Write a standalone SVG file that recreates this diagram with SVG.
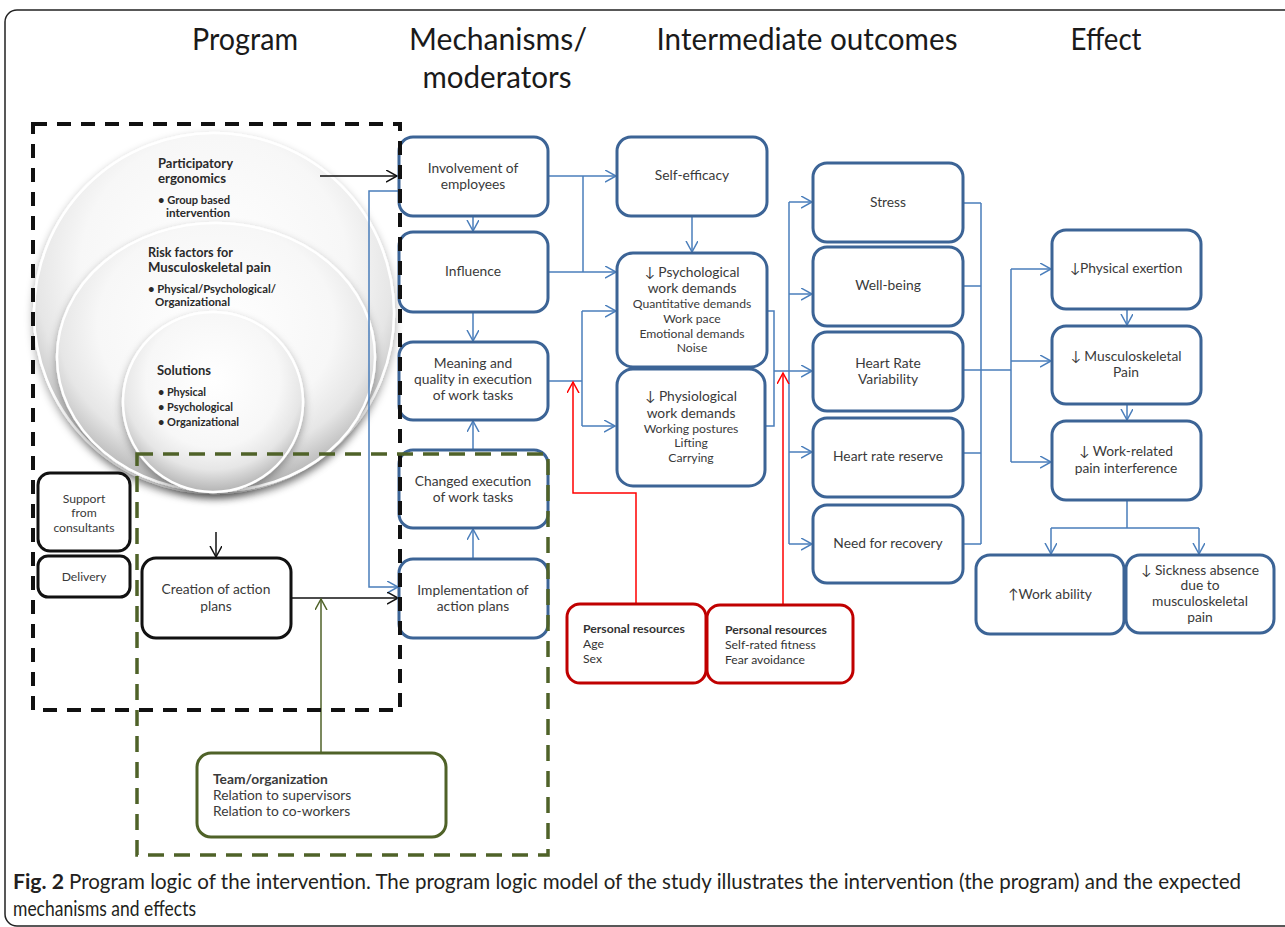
<svg xmlns="http://www.w3.org/2000/svg" width="1285" height="927" viewBox="0 0 1285 927">
<defs>
<style>
.hdr{font-family:Lato,"Liberation Sans",sans-serif;font-size:30px;fill:#1a1a1a;text-anchor:middle}
.bt{font-family:Lato,"DejaVu Sans","Liberation Sans",sans-serif;font-size:13.8px;fill:#3a3a3a;text-anchor:middle}
.sm{font-size:12.2px}
.ct{font-family:Lato,"DejaVu Sans","Liberation Sans",sans-serif;font-weight:bold;fill:#2a2a2a}
.lt{font-family:Lato,"Liberation Sans",sans-serif;font-size:12.2px;fill:#333}
.b{font-weight:bold}
.blue{fill:#fff;stroke:#3C6496;stroke-width:3}
.blk{fill:#fff;stroke:#111;stroke-width:3}
.red{fill:#fff;stroke:#C00000;stroke-width:3}
.grn{fill:#fff;stroke:#4F6228;stroke-width:3}
.cb{fill:none;stroke:#4A7EBB;stroke-width:1.5}
.ck{fill:none;stroke:#111;stroke-width:1.5}
.cg{fill:none;stroke:#4F6228;stroke-width:1.5}
.cr{fill:none;stroke:#FF0000;stroke-width:1.5}
.circ{stroke:#ffffff;stroke-width:2.5}
.cap{font-family:Lato,"Liberation Sans",sans-serif;font-size:20.5px;fill:#231f20}
</style>
<marker id="ab" markerUnits="userSpaceOnUse" markerWidth="14" markerHeight="14" refX="11" refY="6" orient="auto"><path d="M0,0 L11,6 L0,12" fill="none" stroke="#4A7EBB" stroke-width="1.5"/></marker>
<marker id="ak" markerUnits="userSpaceOnUse" markerWidth="14" markerHeight="14" refX="11" refY="6" orient="auto"><path d="M0,0 L11,6 L0,12" fill="none" stroke="#111" stroke-width="1.5"/></marker>
<marker id="ag" markerUnits="userSpaceOnUse" markerWidth="14" markerHeight="14" refX="11" refY="6" orient="auto"><path d="M0,0 L11,6 L0,12" fill="none" stroke="#4F6228" stroke-width="1.5"/></marker>
<marker id="ar" markerUnits="userSpaceOnUse" markerWidth="14" markerHeight="14" refX="11" refY="6" orient="auto"><path d="M0,0 L11,6 L0,12" fill="none" stroke="#FF0000" stroke-width="1.5"/></marker>
<radialGradient id="cg1" cx="50%" cy="38%" r="62%">
<stop offset="0" stop-color="#ffffff"/>
<stop offset="0.6" stop-color="#f7f7f7"/>
<stop offset="0.8" stop-color="#e6e6e6"/>
<stop offset="1" stop-color="#b4b4b4"/>
</radialGradient>
<filter id="sh" x="-20%" y="-20%" width="140%" height="150%">
<feDropShadow dx="0" dy="4" stdDeviation="4" flood-color="#000" flood-opacity="0.35"/>
</filter>
</defs>

<rect x="5" y="10" width="1300" height="916" rx="12" fill="none" stroke="#222" stroke-width="1.5"/>

<g id="headers">
<text class="hdr" x="245" y="50" textLength="106" lengthAdjust="spacingAndGlyphs">Program</text>
<text class="hdr" x="498" y="50" textLength="178" lengthAdjust="spacingAndGlyphs">Mechanisms/</text>
<text class="hdr" x="497" y="88" textLength="149" lengthAdjust="spacingAndGlyphs">moderators</text>
<text class="hdr" x="807" y="50" textLength="301" lengthAdjust="spacingAndGlyphs">Intermediate outcomes</text>
<text class="hdr" x="1106" y="50" textLength="71" lengthAdjust="spacingAndGlyphs">Effect</text>
</g>

<g id="program-circles">
<circle cx="214" cy="313" r="180" fill="url(#cg1)" class="circ" filter="url(#sh)"/>
<ellipse cx="216" cy="357" rx="159" ry="134" fill="url(#cg1)" class="circ" filter="url(#sh)"/>
<circle cx="213" cy="402" r="90" fill="url(#cg1)" class="circ" filter="url(#sh)"/>
<text class="ct" font-size="14" x="158" y="168" textLength="75" lengthAdjust="spacingAndGlyphs">Participatory</text>
<text class="ct" font-size="14" x="158" y="183" textLength="68" lengthAdjust="spacingAndGlyphs">ergonomics</text>
<text class="ct" font-size="12" x="158" y="204" textLength="72" lengthAdjust="spacingAndGlyphs">• Group based</text>
<text class="ct" font-size="12" x="166" y="217" textLength="64" lengthAdjust="spacingAndGlyphs">intervention</text>
<text class="ct" font-size="14" x="148" y="257" textLength="85" lengthAdjust="spacingAndGlyphs">Risk factors for</text>
<text class="ct" font-size="14" x="148" y="272" textLength="123" lengthAdjust="spacingAndGlyphs">Musculoskeletal pain</text>
<text class="ct" font-size="12" x="148" y="293" textLength="128" lengthAdjust="spacingAndGlyphs">• Physical/Psychological/</text>
<text class="ct" font-size="12" x="155" y="306" textLength="75" lengthAdjust="spacingAndGlyphs">Organizational</text>
<text class="ct" font-size="14" x="157" y="375" textLength="54" lengthAdjust="spacingAndGlyphs">Solutions</text>
<text class="ct" font-size="12" x="158" y="396" textLength="48" lengthAdjust="spacingAndGlyphs">• Physical</text>
<text class="ct" font-size="12" x="158" y="411" textLength="75" lengthAdjust="spacingAndGlyphs">• Psychological</text>
<text class="ct" font-size="12" x="158" y="426" textLength="81" lengthAdjust="spacingAndGlyphs">• Organizational</text>
</g>

<g id="connectors">
<path class="cb" d="M548,176 H616" marker-end="url(#ab)"/>
<path class="cb" d="M548,272 H616" marker-end="url(#ab)"/>
<path class="cb" d="M583,176 V272"/>
<path class="cb" d="M473,216 V231" marker-end="url(#ab)"/>
<path class="cb" d="M473,312 V341" marker-end="url(#ab)"/>
<path class="cb" d="M473,450 V421" marker-end="url(#ab)"/>
<path class="cb" d="M473,559 V529" marker-end="url(#ab)"/>
<path class="cb" d="M692,216 V252" marker-end="url(#ab)"/>
<path class="cb" d="M548,381 H582"/>
<path class="cb" d="M582,311 V426"/>
<path class="cb" d="M582,311 H616" marker-end="url(#ab)"/>
<path class="cb" d="M582,426 H615" marker-end="url(#ab)"/>
<path class="cb" d="M767,311 H774 V426 H765"/>
<path class="cb" d="M774,371 H812" marker-end="url(#ab)"/>
<path class="cb" d="M789,202 V544"/>
<path class="cb" d="M789,202 H812" marker-end="url(#ab)"/>
<path class="cb" d="M789,294 H812" marker-end="url(#ab)"/>
<path class="cb" d="M789,452 H812" marker-end="url(#ab)"/>
<path class="cb" d="M789,544 H812" marker-end="url(#ab)"/>
<path class="cb" d="M963,203 H981 M963,286 H981 M963,453 H981 M963,544 H981 M981,203 V544"/>
<path class="cb" d="M963,370 H1011 M1011,269 V462"/>
<path class="cb" d="M1011,269 H1051" marker-end="url(#ab)"/>
<path class="cb" d="M1011,361 H1051" marker-end="url(#ab)"/>
<path class="cb" d="M1011,462 H1051" marker-end="url(#ab)"/>
<path class="cb" d="M1127,309 V325" marker-end="url(#ab)"/>
<path class="cb" d="M1127,404 V420" marker-end="url(#ab)"/>
<path class="cb" d="M1127,500 V528 M1051,528 H1199"/>
<path class="cb" d="M1051,528 V554" marker-end="url(#ab)"/>
<path class="cb" d="M1199,528 V554" marker-end="url(#ab)"/>
<path class="cb" d="M399,191 H369 V587 H398" marker-end="url(#ab)"/>
<path class="ck" d="M320,176 H397" marker-end="url(#ak)"/>
<path class="ck" d="M216,532 V557" marker-end="url(#ak)"/>
<path class="ck" d="M291,598 H398" marker-end="url(#ak)"/>
<path class="cg" d="M321,753 V599" marker-end="url(#ag)"/>
<path class="cr" d="M636,604 V493 H573 V382" marker-end="url(#ar)"/>
<path class="cr" d="M783,605 V373" marker-end="url(#ar)"/>
</g>

<g id="involvement"><rect class="blue" x="399" y="137" width="149" height="79" rx="14"/><text class="bt" x="473" y="173">Involvement of</text><text class="bt" x="473" y="189">employees</text></g>
<g id="influence"><rect class="blue" x="399" y="232" width="149" height="80" rx="14"/><text class="bt" x="473" y="276">Influence</text></g>
<g id="meaning"><rect class="blue" x="399" y="342" width="149" height="78" rx="14"/><text class="bt" x="473" y="368">Meaning and</text><text class="bt" x="473" y="384">quality in execution</text><text class="bt" x="473" y="400">of work tasks</text></g>
<g id="changed"><rect class="blue" x="399" y="450" width="149" height="78" rx="14"/><text class="bt" x="473" y="486">Changed execution</text><text class="bt" x="473" y="502">of work tasks</text></g>
<g id="implementation"><rect class="blue" x="399" y="559" width="149" height="79" rx="14"/><text class="bt" x="473" y="595">Implementation of</text><text class="bt" x="473" y="611">action plans</text></g>

<g id="self-efficacy"><rect class="blue" x="617" y="137" width="150" height="79" rx="14"/><text class="bt" x="692" y="180">Self-efficacy</text></g>
<g id="psychological"><rect class="blue" x="617" y="253" width="150" height="114" rx="16"/><text class="bt" x="692" y="277">↓ Psychological</text><text class="bt" x="692" y="293">work demands</text><text class="bt sm" x="692" y="308">Quantitative demands</text><text class="bt sm" x="692" y="323">Work pace</text><text class="bt sm" x="692" y="338">Emotional demands</text><text class="bt sm" x="692" y="352">Noise</text></g>
<g id="physiological"><rect class="blue" x="617" y="369" width="148" height="117" rx="16"/><text class="bt" x="691" y="401">↓ Physiological</text><text class="bt" x="691" y="418">work demands</text><text class="bt sm" x="691" y="433">Working postures</text><text class="bt sm" x="691" y="447">Lifting</text><text class="bt sm" x="691" y="462">Carrying</text></g>

<g id="stress"><rect class="blue" x="813" y="163" width="150" height="79" rx="14"/><text class="bt" x="888" y="207">Stress</text></g>
<g id="well-being"><rect class="blue" x="813" y="247" width="150" height="79" rx="14"/><text class="bt" x="888" y="290">Well-being</text></g>
<g id="hrv"><rect class="blue" x="813" y="332" width="150" height="79" rx="14"/><text class="bt" x="888" y="368">Heart Rate</text><text class="bt" x="888" y="384">Variability</text></g>
<g id="hr-reserve"><rect class="blue" x="813" y="418" width="150" height="79" rx="14"/><text class="bt" x="888" y="461">Heart rate reserve</text></g>
<g id="recovery"><rect class="blue" x="813" y="505" width="150" height="78" rx="14"/><text class="bt" x="888" y="548">Need for recovery</text></g>

<g id="physical-exertion"><rect class="blue" x="1052" y="230" width="149" height="79" rx="14"/><text class="bt" x="1126" y="273">↓Physical exertion</text></g>
<g id="msk-pain"><rect class="blue" x="1052" y="326" width="149" height="78" rx="14"/><text class="bt" x="1126" y="361">↓ Musculoskeletal</text><text class="bt" x="1126" y="377">Pain</text></g>
<g id="work-pain"><rect class="blue" x="1052" y="421" width="149" height="79" rx="14"/><text class="bt" x="1126" y="456">↓ Work-related</text><text class="bt" x="1126" y="473">pain interference</text></g>
<g id="work-ability"><rect class="blue" x="976" y="555" width="148" height="79" rx="14"/><text class="bt" x="1050" y="599">↑Work ability</text></g>
<g id="sickness"><rect class="blue" x="1126" y="555" width="148" height="78" rx="14"/><text class="bt" x="1200" y="575">↓ Sickness absence</text><text class="bt" x="1200" y="590">due to</text><text class="bt" x="1200" y="606">musculoskeletal</text><text class="bt" x="1200" y="622">pain</text></g>

<g id="support"><rect class="blk" x="38" y="473" width="92" height="78" rx="12"/><text class="bt sm" x="84" y="503">Support</text><text class="bt sm" x="84" y="517">from</text><text class="bt sm" x="84" y="532">consultants</text></g>
<g id="delivery"><rect class="blk" x="38" y="556" width="92" height="41" rx="10"/><text class="bt sm" x="84" y="581">Delivery</text></g>
<g id="creation"><rect class="blk" x="142" y="558" width="149" height="80" rx="14"/><text class="bt" x="216" y="594">Creation of action</text><text class="bt" x="216" y="611">plans</text></g>

<g id="personal-1"><rect class="red" x="567" y="604" width="139" height="79" rx="13"/><text class="lt b" x="583" y="633">Personal resources</text><text class="lt" x="583" y="648">Age</text><text class="lt" x="583" y="663">Sex</text></g>
<g id="personal-2"><rect class="red" x="707" y="605" width="146" height="78" rx="13"/><text class="lt b" x="725" y="634">Personal resources</text><text class="lt" x="725" y="649">Self-rated fitness</text><text class="lt" x="725" y="664">Fear avoidance</text></g>
<g id="team"><rect class="grn" x="197" y="753" width="249" height="84" rx="14"/><text class="bt b" style="text-anchor:start" x="213" y="784">Team/organization</text><text class="bt" style="text-anchor:start" x="213" y="800">Relation to supervisors</text><text class="bt" style="text-anchor:start" x="213" y="816">Relation to co-workers</text></g>

<g id="frames">
<rect x="33" y="124" width="367" height="586" fill="none" stroke="#111" stroke-width="4" stroke-dasharray="14,10"/>
<rect x="137" y="454" width="411" height="401" fill="none" stroke="#4F6228" stroke-width="3.5" stroke-dasharray="16,10"/>
</g>

<g id="caption">
<text class="cap b" x="13" y="889" textLength="51" lengthAdjust="spacingAndGlyphs">Fig. 2</text>
<text class="cap" x="69" y="889" textLength="1172" lengthAdjust="spacingAndGlyphs">Program logic of the intervention. The program logic model of the study illustrates the intervention (the program) and the expected</text>
<text class="cap" x="13" y="916" textLength="183" lengthAdjust="spacingAndGlyphs">mechanisms and effects</text>
</g>
</svg>
